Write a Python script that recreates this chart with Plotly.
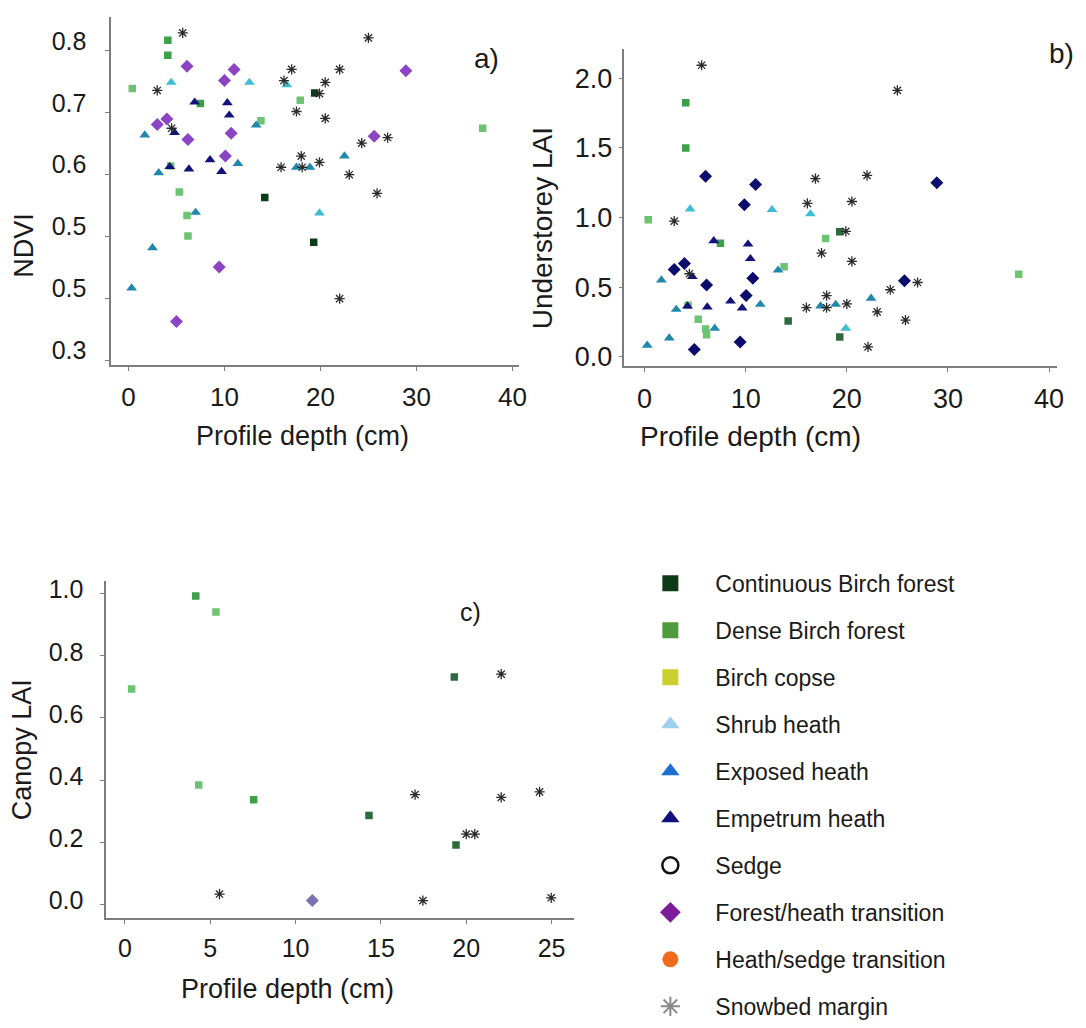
import plotly.graph_objects as go

W, H = 1086, 1028
FONT = "Liberation Sans, Arial, sans-serif"
TXT = "#1a1a1a"

# ---------------- categories / legend ----------------
categories = ["Continuous Birch forest", "Dense Birch forest", "Birch copse", "Shrub heath",
              "Exposed heath", "Empetrum heath", "Sedge", "Forest/heath transition",
              "Heath/sedge transition", "Snowbed margin"]
legend_symbols = ["square", "square", "square", "triangle-up", "triangle-up", "triangle-up",
                  "circle-open", "diamond", "circle", "asterisk-open"]
legend_colors = ["#0f3a16", "#4e9a3c", "#c9cf2c", "#9ed0ee", "#1a6fd2", "#10107e",
                 "#111111", "#7c1c9c", "#f06c1c", "#8a8a8a"]

# ---------------- panel a) NDVI ----------------
a_cont_x = [14.2, 19.4, 19.3]
a_cont_y = [0.563, 0.732, 0.491]
a_dense_x = [4.1, 4.1, 7.5]
a_dense_y = [0.817, 0.793, 0.715]
a_copse_x = [0.4, 4.4, 5.3, 6.1, 6.2, 13.8, 17.9, 36.9]
a_copse_y = [0.739, 0.614, 0.572, 0.534, 0.501, 0.687, 0.720, 0.675]
a_shrub_x = [4.45, 12.6, 16.5, 19.9]
a_shrub_y = [0.749, 0.749, 0.745, 0.538]
a_exposed_x = [0.33, 1.7, 2.5, 3.15, 7.0, 11.4, 13.3, 17.5, 18.9, 22.5]
a_exposed_y = [0.417, 0.664, 0.482, 0.603, 0.539, 0.618, 0.680, 0.612, 0.612, 0.630]
a_empetrum_x = [4.3, 4.8, 6.3, 6.9, 8.5, 9.7, 10.3, 10.5]
a_empetrum_y = [0.613, 0.668, 0.609, 0.717, 0.624, 0.605, 0.716, 0.696]
a_fh_x = [3.0, 4.0, 5.0, 6.1, 6.2, 9.45, 10.0, 10.1, 10.7, 11.0, 25.6, 28.9]
a_fh_y = [0.681, 0.690, 0.363, 0.775, 0.657, 0.451, 0.752, 0.630, 0.667, 0.770, 0.662, 0.768]
a_snow_x = [3.0, 4.5, 5.65, 15.9, 16.2, 17.0, 17.5, 18.0, 18.1, 19.9, 19.9, 20.5, 20.5,
            22.0, 22.0, 23.0, 24.3, 25.0, 25.9, 27.0]
a_snow_y = [0.736, 0.675, 0.829, 0.612, 0.752, 0.770, 0.702, 0.630, 0.612, 0.731, 0.620,
            0.749, 0.691, 0.770, 0.400, 0.600, 0.651, 0.821, 0.570, 0.660]

# ---------------- panel b) Understorey LAI ----------------
b_cont_x = [14.2, 19.3, 19.3]
b_cont_y = [0.256, 0.897, 0.141]
b_dense_x = [4.07, 4.07, 7.5]
b_dense_y = [1.824, 1.500, 0.815]
b_copse_x = [0.36, 4.3, 5.31, 6.03, 6.13, 13.8, 17.9, 37.0]
b_copse_y = [0.984, 0.37, 0.270, 0.199, 0.157, 0.646, 0.850, 0.592]
b_shrub_x = [4.5, 12.6, 16.4, 19.9]
b_shrub_y = [1.061, 1.056, 1.026, 0.204]
b_exposed_x = [0.26, 1.66, 2.44, 3.13, 6.94, 11.44, 13.2, 17.4, 18.9, 22.4]
b_exposed_y = [0.082, 0.551, 0.134, 0.340, 0.204, 0.376, 0.622, 0.364, 0.376, 0.420]
b_empetrum_x = [4.24, 4.72, 6.2, 6.84, 8.5, 9.65, 10.23, 10.46]
b_empetrum_y = [0.364, 0.575, 0.357, 0.833, 0.399, 0.350, 0.808, 0.704]
b_fh_x = [2.93, 3.94, 4.92, 6.03, 6.13, 9.45, 9.87, 10.04, 10.7, 10.98, 25.7, 28.9]
b_fh_y = [0.627, 0.669, 0.052, 1.296, 0.516, 0.106, 1.092, 0.439, 0.563, 1.237, 0.545, 1.249]
b_snow_x = [2.93, 4.43, 5.64, 16.0, 16.1, 16.9, 17.5, 18.0, 18.0, 19.9, 20.0, 20.5, 20.5,
            22.0, 22.1, 23.0, 24.3, 25.0, 25.8, 27.0]
b_snow_y = [0.974, 0.596, 2.094, 0.352, 1.101, 1.279, 0.744, 0.439, 0.352, 0.901, 0.380,
            1.115, 0.685, 1.303, 0.070, 0.322, 0.481, 1.913, 0.263, 0.533]

# ---------------- panel c) Canopy LAI ----------------
c_cont_x = [14.3, 19.3, 19.4]
c_cont_y = [0.286, 0.732, 0.191]
c_dense_x = [4.15, 7.54]
c_dense_y = [0.993, 0.337]
c_copse_x = [0.39, 4.32, 5.33]
c_copse_y = [0.693, 0.384, 0.941]
c_fh_x = [10.98]
c_fh_y = [0.012]
c_snow_x = [5.54, 17.0, 17.46, 20.0, 20.5, 22.05, 22.05, 24.3, 24.98]
c_snow_y = [0.033, 0.353, 0.012, 0.226, 0.226, 0.741, 0.344, 0.362, 0.021]

# ---------------- tick labels ----------------
a_ytickvals = [0.3, 0.4, 0.5, 0.6, 0.7, 0.8]
a_yticktext = ["0.3", "0.5", "0.5", "0.6", "0.7", "0.8"]
b_ytickvals = [0.0, 0.5, 1.0, 1.5, 2.0]
b_yticktext = ["0.0", "0.5", "1.0", "1.5", "2.0"]
c_ytickvals = [0.0, 0.2, 0.4, 0.6, 0.8, 1.0]
c_yticktext = ["0.0", "0.2", "0.4", "0.6", "0.8", "1.0"]
ab_xtickvals = [0, 10, 20, 30, 40]
c_xtickvals = [0, 5, 10, 15, 20, 25]

fig = go.Figure()

# legend-only entries (legend colours differ from plotted colours in the original)
for name, sym, col in zip(categories, legend_symbols, legend_colors):
    line = dict(width=0)
    if sym.endswith("open"):
        line = dict(width=2.5 if sym == "circle-open" else 2, color=col)
    fig.add_trace(go.Scatter(x=[None], y=[None], mode="markers", name=name,
                             legendgroup=name, showlegend=True, xaxis="x3", yaxis="y3",
                             marker=dict(symbol=sym, size=16, color=col, line=line)))


def add(xs, ys, cat, sym, col, size, ax):
    line = dict(width=0)
    if sym == "asterisk-open":
        line = dict(width=1.3, color=col)
    fig.add_trace(go.Scatter(x=xs, y=ys, mode="markers", name=cat, legendgroup=cat,
                             showlegend=False, xaxis="x" + ax, yaxis="y" + ax,
                             marker=dict(symbol=sym, size=size, color=col, line=line),
                             hoverinfo="x+y+name"))


SQ, TRI, DIA, AST = 7.5, 9.5, 10, 8.5
c_dark_a, c_dark_bc = "#0b3d1b", "#2f6a3e"
c_dense, c_copse = "#3c9f4a", "#6cc472"
c_shrub, c_exposed, c_emp = "#3fbdd3", "#2088ab", "#12127a"
c_star = "#2b2b2b"

# panel a
add(a_cont_x, a_cont_y, categories[0], "square", c_dark_a, SQ, "")
add(a_dense_x, a_dense_y, categories[1], "square", c_dense, SQ, "")
add(a_copse_x, a_copse_y, categories[2], "square", c_copse, SQ, "")
add(a_shrub_x, a_shrub_y, categories[3], "triangle-up", c_shrub, TRI, "")
add(a_exposed_x, a_exposed_y, categories[4], "triangle-up", c_exposed, TRI, "")
add(a_empetrum_x, a_empetrum_y, categories[5], "triangle-up", c_emp, TRI, "")
add(a_fh_x, a_fh_y, categories[7], "diamond", "#8b45c4", DIA, "")
add(a_snow_x, a_snow_y, categories[9], "asterisk-open", c_star, AST, "")
# panel b
add(b_cont_x, b_cont_y, categories[0], "square", c_dark_bc, SQ, "2")
add(b_dense_x, b_dense_y, categories[1], "square", c_dense, SQ, "2")
add(b_copse_x, b_copse_y, categories[2], "square", c_copse, SQ, "2")
add(b_shrub_x, b_shrub_y, categories[3], "triangle-up", c_shrub, TRI, "2")
add(b_exposed_x, b_exposed_y, categories[4], "triangle-up", c_exposed, TRI, "2")
add(b_empetrum_x, b_empetrum_y, categories[5], "triangle-up", c_emp, TRI, "2")
add(b_fh_x, b_fh_y, categories[7], "diamond", "#0c0c6c", DIA, "2")
add(b_snow_x, b_snow_y, categories[9], "asterisk-open", c_star, AST, "2")
# panel c
add(c_cont_x, c_cont_y, categories[0], "square", c_dark_bc, SQ, "3")
add(c_dense_x, c_dense_y, categories[1], "square", c_dense, SQ, "3")
add(c_copse_x, c_copse_y, categories[2], "square", c_copse, SQ, "3")
add(c_fh_x, c_fh_y, categories[7], "diamond", "#7a72b2", DIA, "3")
add(c_snow_x, c_snow_y, categories[9], "asterisk-open", c_star, AST, "3")


def px(x):
    return x / W


def py(y):
    return 1 - y / H


def axis(dom, rng, tv, tt, fs, standoff, **kw):
    d = dict(domain=dom, range=rng, tickvals=tv, showgrid=False, zeroline=False,
             showline=True, linecolor="#7d7d7d", linewidth=1.5, ticks="outside",
             ticklen=4, tickwidth=1.2, tickcolor="#7d7d7d",
             tickfont=dict(family=FONT, size=fs, color=TXT), ticklabelstandoff=standoff)
    if tt is not None:
        d["ticktext"] = tt
    d.update(kw)
    return d


fig.update_layout(
    width=W, height=H, margin=dict(l=0, r=0, t=0, b=0),
    paper_bgcolor="white", plot_bgcolor="white",
    font=dict(family=FONT, color=TXT),
    xaxis=axis([px(112), px(523)], [-1.8, 40.7], ab_xtickvals, None, 26, 4, anchor="y"),
    yaxis=axis([py(368), py(12)], [0.292, 0.855], a_ytickvals, a_yticktext, 25, 14,
               anchor="x", ticklabelshift=-10),
    xaxis2=axis([px(629), px(1065)], [-2.0, 40.8], ab_xtickvals, None, 27, 3, anchor="y2"),
    yaxis2=axis([py(369), py(45)], [-0.07, 2.21], b_ytickvals, b_yticktext, 27, 1,
                anchor="x2"),
    xaxis3=axis([px(107), px(578)], [-1.1, 26.3], c_xtickvals, None, 25, 3, anchor="y3"),
    yaxis3=axis([py(932), py(588)], [-0.044, 1.041], c_ytickvals, c_yticktext, 25, 12,
                anchor="x3", ticklabelshift=-4),
    showlegend=True,
    legend=dict(x=px(630), y=py(568.5), xanchor="left", yanchor="top",
                traceorder="grouped", tracegroupgap=14.1, itemwidth=80,
                font=dict(family=FONT, size=23, color=TXT), bgcolor="rgba(0,0,0,0)",
                itemclick=False, itemdoubleclick=False),
)

ann = [
    ("Profile depth (cm)", 305, 440, 27, 0),
    ("NDVI", 24, 245, 27, -90),
    ("a)", 490, 55, 28, 0),
    ("Profile depth (cm)", 756, 440, 28, 0),
    ("Understorey LAI", 546, 228, 28, -90),
    ("b)", 1069, 50, 28, 0),
    ("Profile depth (cm)", 290, 1005, 27, 0),
    ("Canopy LAI", 23, 760, 27, -90),
    ("c)", 474, 620, 25, 0),
]
for t, x, y, s, ang in ann:
    fig.add_annotation(text=t, x=px(x), y=py(y), xref="paper", yref="paper",
                       showarrow=False, textangle=ang, xanchor="center", yanchor="middle",
                       font=dict(family=FONT, size=s, color=TXT))

fig.write_html("out.html")
